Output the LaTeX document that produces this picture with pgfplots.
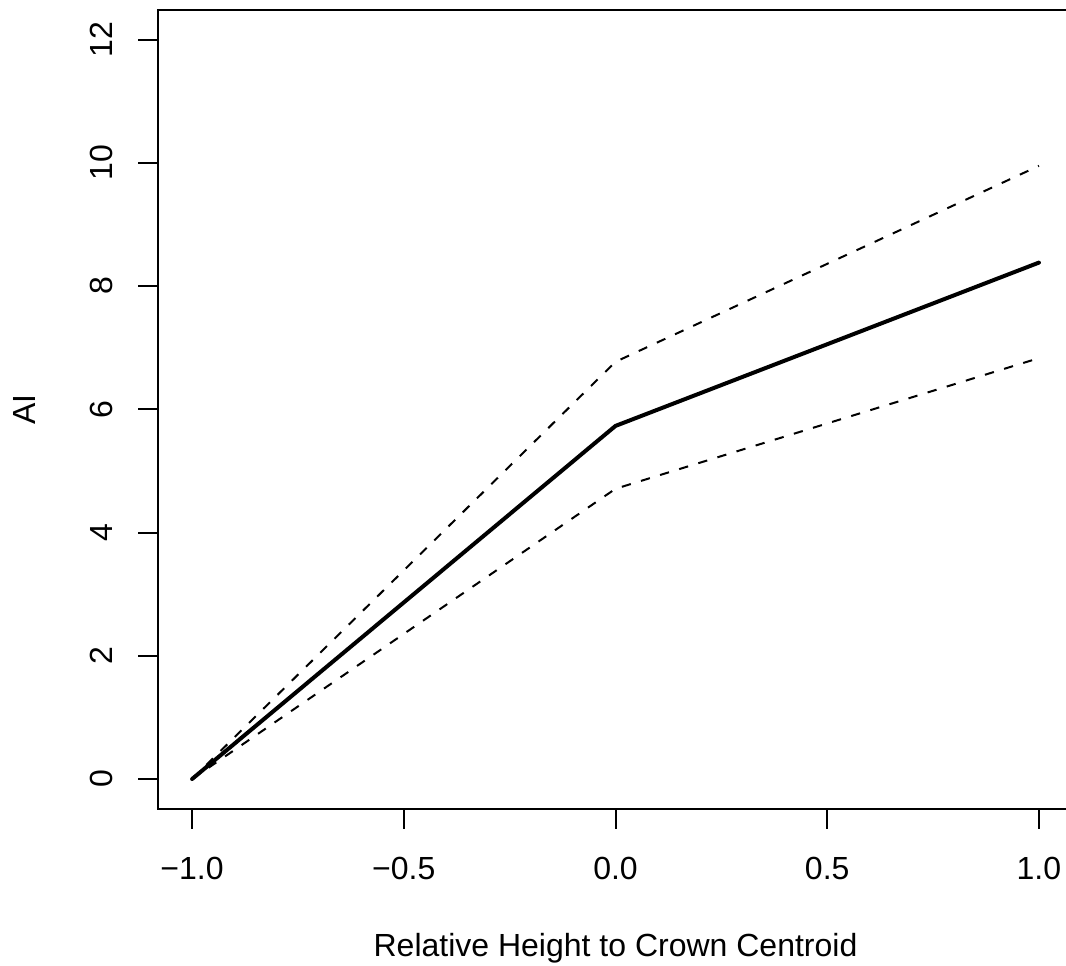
\documentclass[border=0pt]{standalone}
\usepackage{fontspec}
\setmainfont{Liberation Sans}
\usepackage{pgfplots}
\pgfplotsset{compat=1.18}

% values
\pgfplotstableread{
x     fit   lower upper
-1.0  0.00  0.00  0.00
 0.0  5.73  4.71  6.77
 1.0  8.38  6.83  9.95
}\aidata

\newcommand{\bigfont}{\fontsize{24}{29}\selectfont}

\begin{document}
\begin{tikzpicture}
\useasboundingbox (0,0) rectangle (799.5pt,723.75pt);
\clip (0,0) rectangle (799.5pt,723.75pt);
\begin{axis}[
    at={(118.65pt,117.3pt)}, anchor=south west,
    scale only axis,
    width=685.95pt, height=599pt,
    xmin=-1.08, xmax=1.08,
    ymin=-0.48, ymax=12.48,
    xtick={-1,-0.5,0,0.5,1},
    xticklabels={−1.0,−0.5,0.0,0.5,1.0},
    ytick={0,2,4,6,8,10,12},
    yticklabels={0,2,4,6,8,10,12},
    xtick pos=bottom, ytick pos=left,
    tick align=outside,
    major tick length=15pt,
    tick style={black, line width=1.5pt},
    axis line style={black, line width=1.5pt},
    xticklabel style={font=\bigfont, anchor=north, inner sep=0pt},
    yticklabel style={font=\bigfont, rotate=90, anchor=south, inner sep=0pt},
    xticklabel shift=21pt,
    yticklabel shift=18.75pt,
    xlabel={Relative Height to Crown Centroid},
    ylabel={AI},
    xlabel style={font=\bigfont, at={(axis description cs:0.5,-0.1553)}, anchor=north, inner sep=0pt},
    ylabel style={font=\bigfont, at={(axis description cs:-0.1334,0.5)}, anchor=south, inner sep=0pt},
]
\addplot[black, line width=3pt, line join=round, line cap=round] table[x=x, y=fit] {\aidata};
\addplot[black, line width=1.5pt, dash pattern=on 7pt off 8pt] table[x=x, y=upper] {\aidata};
\addplot[black, line width=1.5pt, dash pattern=on 7pt off 8pt] table[x=x, y=lower] {\aidata};
\end{axis}
\end{tikzpicture}
\end{document}
